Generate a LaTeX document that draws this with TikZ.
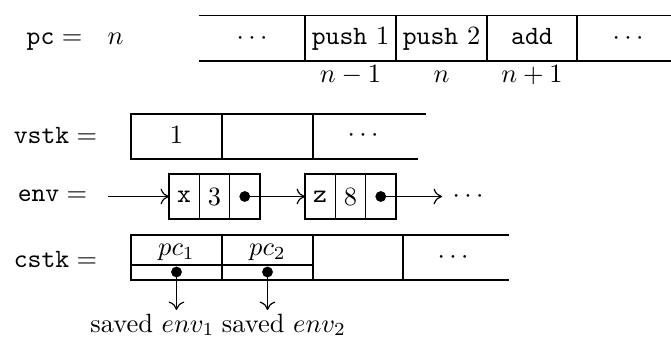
\documentclass[tikz,border=0pt]{standalone}
\usetikzlibrary{arrows.meta}
\begin{document}
\begin{tikzpicture}[
  x=0.3788pt, y=-0.3788pt,
  grid/.style={line width=0.5pt},
  conn/.style={-{Computer Modern Rightarrow[length=3.2pt,width=6pt,line width=0.45pt]},
               line width=0.65pt},
  lbl/.style={anchor=base, inner sep=0pt},
  cell/.style={draw, line width=0.5pt, minimum width=11.48pt,
               minimum height=17.05pt, inner sep=0pt, outer sep=0pt},
  dot/.style={circle, fill, inner sep=0pt, minimum size=4.1pt}
]
\useasboundingbox (0,0) rectangle (671,343);

% program counter and the instruction sequence
\node[lbl] (pceq) at (54.5,45) {$\mathtt{pc} =$};
\node[lbl] (pcn)  at (115.5,45) {$n$};
\draw[grid] (199,15.7) -- (671,15.7) (199,61) -- (671,61);
\foreach \x in {305,396,487,577} \draw[grid] (\x,15.7) -- (\x,61);
\node[lbl] (i0) at (252,45)   {$\cdots$};
\node[lbl] (i1) at (350.5,45) {\texttt{push} 1};
\node[lbl] (i2) at (441.5,45) {\texttt{push} 2};
\node[lbl] (i3) at (532,45)   {\texttt{add}};
\node[lbl] (i4) at (628,45)   {$\cdots$};
\node[lbl] (a1) at (350.5,83) {$n-1$};
\node[lbl] (a2) at (441.5,83) {$n$};
\node[lbl] (a3) at (532,83)   {$n+1$};

% value stack
\node[lbl] (vstkeq) at (55.5,144) {$\mathtt{vstk} =$};
\draw[grid] (426,114) -- (131,114) -- (131,159) -- (418,159);
\draw[grid] (222,114) -- (222,159) (313,114) -- (313,159);
\node[lbl] (v1) at (176.5,144) {$1$};
\node[lbl] (v3) at (363,142)   {$\cdots$};

% environment as a linked list
\node[lbl] (enveq) at (52.5,202) {$\mathtt{env} =$};
\node[cell] (r1a) at (184.15,196.5) {\texttt{x}};
\node[cell] (r1b) at (214.45,196.5) {$3$};
\node[cell] (r1c) at (244.75,196.5) {};
\node[cell] (r2a) at (320.15,196.5) {\texttt{z}};
\node[cell] (r2b) at (350.45,196.5) {$8$};
\node[cell] (r2c) at (380.75,196.5) {};
\node[dot] (d1) at (r1c) {};
\node[dot] (d2) at (r2c) {};
\coordinate (envin)  at (108,196.5);
\coordinate (envout) at (442,196.5);
\node[lbl] (envdots) at (468,203) {$\cdots$};
\draw[conn] (envin) -- (r1a.west);
\draw[conn] (d1.center) -- (r2a.west);
\draw[conn] (d2.center) -- (envout);

% control stack
\node[lbl] (cstkeq) at (55.5,267) {$\mathtt{cstk} =$};
\draw[grid] (509,235) -- (131,235) -- (131,280) -- (509,280);
\draw[grid] (222,235) -- (222,280) (313,235) -- (313,280) (403,235) -- (403,280);
\draw[grid] (131,265) -- (313,265);
\node[lbl] (pc1) at (176.5,255.5) {$pc_1$};
\node[lbl] (pc2) at (267.5,255.5) {$pc_2$};
\node[lbl] (cdots) at (453,263.5) {$\cdots$};
\node[dot] (s1) at (176.5,272) {};
\node[dot] (s2) at (267.5,272) {};
\coordinate (s1end) at (176.5,310);
\coordinate (s2end) at (267.5,310);
\draw[conn] (s1.center) -- (s1end);
\draw[conn] (s2.center) -- (s2end);
\node[lbl] (sv1) at (152.5,332) {saved $env_1$};
\node[lbl] (sv2) at (284,332)   {saved $env_2$};
\end{tikzpicture}
\end{document}
